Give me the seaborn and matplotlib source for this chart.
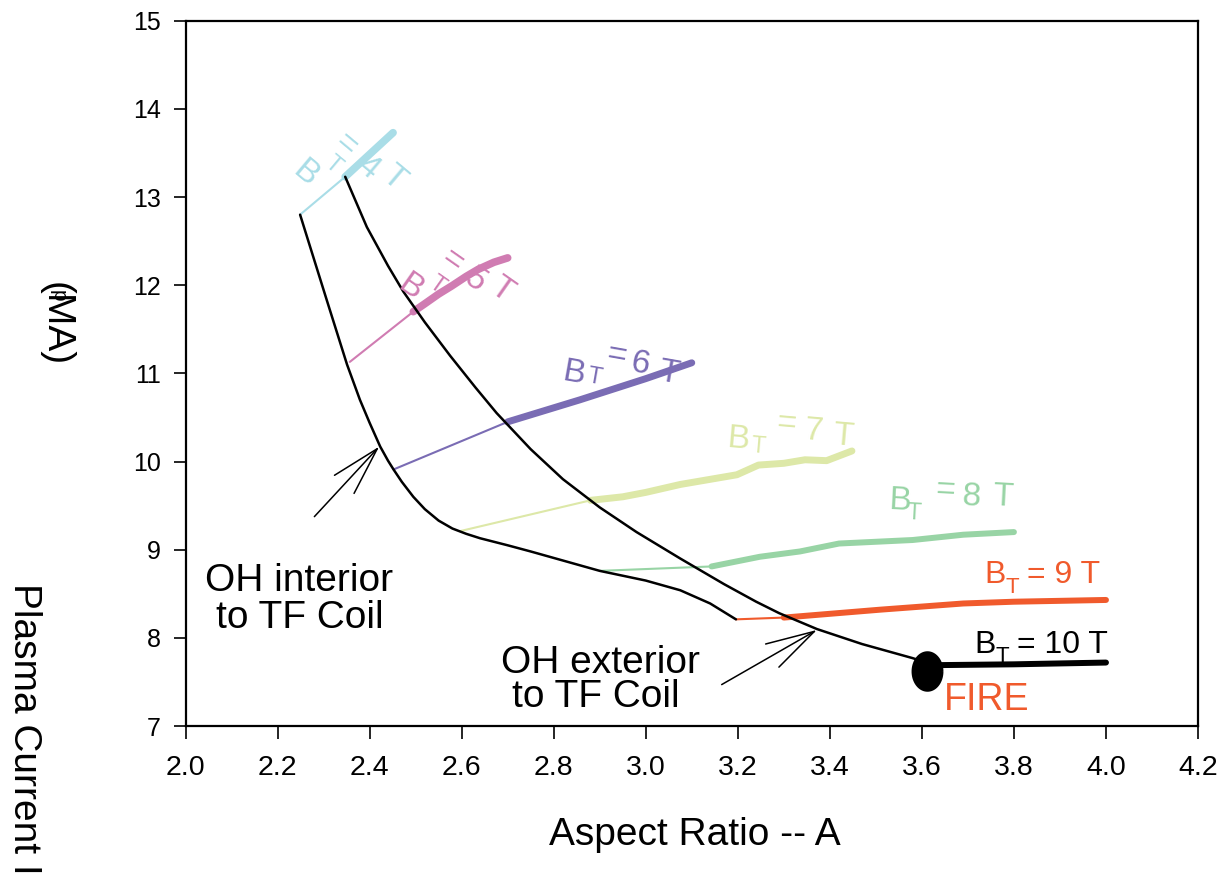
import numpy as np
import matplotlib
matplotlib.use("Agg")
import matplotlib.pyplot as plt
from matplotlib.path import Path
import seaborn as sns

# ---------------- data ----------------
ext_x = [2.347, 2.394, 2.44, 2.473, 2.52, 2.575, 2.63, 2.676, 2.75, 2.82, 2.90,
         2.98, 3.075, 3.17, 3.24, 3.29, 3.372, 3.47, 3.58, 3.61]
ext_y = [13.23, 12.66, 12.22, 11.93, 11.58, 11.20, 10.84, 10.55, 10.14, 9.80, 9.48,
         9.20, 8.90, 8.61, 8.41, 8.28, 8.10, 7.93, 7.77, 7.72]

int_x = [2.249, 2.307, 2.351, 2.379, 2.40, 2.423, 2.44, 2.452, 2.47, 2.495, 2.52,
         2.55, 2.58, 2.61, 2.64, 2.70, 2.75, 2.90, 3.0, 3.075, 3.14, 3.196]
int_y = [12.80, 11.83, 11.10, 10.70, 10.44, 10.17, 10.01, 9.91, 9.77, 9.60, 9.46,
         9.33, 9.24, 9.18, 9.13, 9.05, 8.98, 8.76, 8.65, 8.54, 8.39, 8.21]

bt4_thin_x, bt4_thin_y = [2.249, 2.347], [12.80, 13.23]
bt4_x, bt4_y = [2.347, 2.451], [13.23, 13.73]

bt5_thin_x, bt5_thin_y = [2.357, 2.495], [11.13, 11.70]
bt5_x = [2.495, 2.52, 2.55, 2.578, 2.61, 2.636, 2.67, 2.70]
bt5_y = [11.70, 11.79, 11.90, 11.99, 12.10, 12.18, 12.26, 12.31]

bt6_thin_x, bt6_thin_y = [2.452, 2.70], [9.91, 10.45]
bt6_x = [2.70, 2.857, 3.0, 3.1]
bt6_y = [10.45, 10.70, 10.94, 11.12]

bt7_thin_x, bt7_thin_y = [2.596, 2.88], [9.21, 9.56]
bt7_x = [2.88, 2.95, 3.0, 3.075, 3.198, 3.245, 3.30, 3.346, 3.393, 3.448]
bt7_y = [9.56, 9.60, 9.65, 9.74, 9.85, 9.96, 9.98, 10.02, 10.01, 10.12]

bt8_thin_x, bt8_thin_y = [2.90, 3.143], [8.76, 8.81]
bt8_x = [3.143, 3.248, 3.335, 3.42, 3.58, 3.69, 3.80]
bt8_y = [8.81, 8.92, 8.98, 9.07, 9.11, 9.17, 9.20]

bt9_thin_x, bt9_thin_y = [3.196, 3.30], [8.21, 8.23]
bt9_x = [3.30, 3.51, 3.69, 3.80, 4.0]
bt9_y = [8.23, 8.32, 8.39, 8.41, 8.43]

bt10_x = [3.62, 3.80, 4.0]
bt10_y = [7.69, 7.70, 7.72]

fire_x, fire_y = [3.612], [7.62]

x_ticks = [2.0, 2.2, 2.4, 2.6, 2.8, 3.0, 3.2, 3.4, 3.6, 3.8, 4.0, 4.2]
y_ticks = [7, 8, 9, 10, 11, 12, 13, 14, 15]

C4, C5, C6, C7, C8, C9 = "#a9dde7", "#d07cb2", "#7a6cb4", "#dde8a8", "#98d4a5", "#f05a2c"

# ---------------- style ----------------
sns.set_style("ticks")
plt.rcParams["font.family"] = ["Liberation Sans", "DejaVu Sans"]
plt.rcParams["mathtext.fontset"] = "custom"
plt.rcParams["mathtext.rm"] = "Liberation Sans"
plt.rcParams["text.color"] = "black"
plt.rcParams["axes.labelcolor"] = "black"
plt.rcParams["xtick.color"] = "black"
plt.rcParams["ytick.color"] = "black"

fig = plt.figure(figsize=(12.18, 8.74), dpi=100)
ax = fig.add_axes([0.1523, 0.1693, 0.8313, 0.8070])


def line(x, y, color, lw):
    sns.lineplot(x=x, y=y, sort=False, estimator=None, color=color,
                 linewidth=lw, ax=ax, legend=False)


thin = 1.5
line(bt4_thin_x, bt4_thin_y, C4, thin)
line(bt4_x, bt4_y, C4, 5.5)
line(bt5_thin_x, bt5_thin_y, C5, thin)
line(bt5_x, bt5_y, C5, 5.5)
line(bt6_thin_x, bt6_thin_y, C6, thin)
line(bt6_x, bt6_y, C6, 5.0)
line(bt7_thin_x, bt7_thin_y, C7, thin)
line(bt7_x, bt7_y, C7, 5.0)
line(bt8_thin_x, bt8_thin_y, C8, thin)
line(bt8_x, bt8_y, C8, 4.3)
line(bt9_thin_x, bt9_thin_y, C9, thin)
line(bt9_x, bt9_y, C9, 4.3)
line(bt10_x, bt10_y, "black", 4.3)

line(ext_x, ext_y, "black", 1.8)
line(int_x, int_y, "black", 1.8)

t = np.linspace(0, 2 * np.pi, 80)
ellipse = Path(np.column_stack([0.77 * np.cos(t), np.sin(t)]))
sns.scatterplot(x=fire_x, y=fire_y, marker=ellipse, s=27 ** 2, color="black",
                edgecolor="black", ax=ax, legend=False, zorder=5)

# ---------------- axes ----------------
ax.set_xlim(2.0, 4.2)
ax.set_ylim(7, 15)
ax.set_xticks(x_ticks)
ax.set_xticklabels([f"{v:.1f}" for v in x_ticks])
ax.set_yticks(y_ticks)
ax.set_yticklabels([str(v) for v in y_ticks])
ax.tick_params(axis="both", direction="out", length=9, width=1.2, colors="black")
ax.tick_params(axis="x", pad=12, labelsize=20.5)
ax.tick_params(axis="y", pad=9, labelsize=18)
for s in ax.spines.values():
    s.set_linewidth(1.6)
    s.set_color("black")

ax.set_xlabel("Aspect Ratio -- A", fontsize=28)
ax.xaxis.set_label_coords(0.503, -0.1687)
ax.xaxis.label.set_va("baseline")

# broken y-label pieces
fig.text(13.5 / 1218, 1 - 583 / 874, "Plasma Current I", fontsize=28,
         rotation=270, rotation_mode="anchor", ha="left", va="baseline")
fig.text(46 / 1218, 1 - 282 / 874, "(MA)", fontsize=28,
         rotation=270, rotation_mode="anchor", ha="left", va="baseline")
fig.text(58 / 1218, 1 - 296 / 874, "p", fontsize=15,
         rotation=270, rotation_mode="anchor", ha="center", va="center")

# ---------------- annotations ----------------
ax.text(2.2466, 8.534, "OH interior", fontsize=28, ha="center", va="baseline")
ax.text(2.249, 8.111, "to TF Coil", fontsize=28, ha="center", va="baseline")
ax.text(2.9007, 7.604, "OH exterior", fontsize=28, ha="center", va="baseline")
ax.text(2.892, 7.219, "to TF Coil", fontsize=28, ha="center", va="baseline")
ax.text(3.7406, 7.182, "FIRE", fontsize=27, ha="center", va="baseline", color=C9)

arrow = dict(arrowstyle="->,head_length=3.5,head_width=0.96", color="black",
             lw=1.1, shrinkA=0, shrinkB=0)
ax.annotate("", xy=(2.421, 10.17), xytext=(2.280, 9.375), arrowprops=arrow)
ax.annotate("", xy=(3.372, 8.09), xytext=(3.165, 7.47), arrowprops=arrow)


def bt_label(pieces, color, rot):
    for (px, py, s, fs) in pieces:
        ax.text(px, py, s, fontsize=fs, color=color, rotation=rot,
                rotation_mode="anchor", ha="center", va="center")


bt_label([(2.260, 13.27, "B", 24), (2.321, 13.36, "T", 17),
          (2.347, 13.59, "=", 24), (2.397, 13.34, "4", 24),
          (2.451, 13.22, "T", 24)], C4, -40)
bt_label([(2.488, 11.97, "B", 24), (2.546, 12.00, "T", 17),
          (2.578, 12.27, "=", 24), (2.629, 12.06, "5", 24),
          (2.687, 11.95, "T", 24)], C5, -35)
bt_label([(2.843, 11.00, "B", 24), (2.890, 10.95, "T", 17),
          (2.937, 11.19, "=", 24), (2.988, 11.10, "6", 24),
          (3.049, 11.00, "T", 24)], C6, -10)
bt_label([(3.201, 10.245, "B", 24), (3.245, 10.17, "T", 17),
          (3.306, 10.42, "=", 24), (3.364, 10.34, "7", 24),
          (3.429, 10.28, "T", 24)], C7, -5)
bt_label([(3.553, 9.55, "B", 24), (3.582, 9.415, "T", 17),
          (3.650, 9.66, "=", 24), (3.708, 9.60, "8", 24),
          (3.777, 9.60, "T", 24)], C8, -3)

# B_T = 9 T and B_T = 10 T (upright)
ax.text(3.759, 8.71, "B", fontsize=23, color=C9, ha="center", va="center")
ax.text(3.797, 8.57, "T", fontsize=16, color=C9, ha="center", va="center")
ax.text(3.828, 8.71, "= 9 T", fontsize=23, color=C9, ha="left", va="center")
ax.text(3.737, 7.92, "B", fontsize=23, color="black", ha="center", va="center")
ax.text(3.774, 7.79, "T", fontsize=16, color="black", ha="center", va="center")
ax.text(3.806, 7.92, "= 10 T", fontsize=23, color="black", ha="left", va="center")

fig.savefig("out.png", dpi=100)
